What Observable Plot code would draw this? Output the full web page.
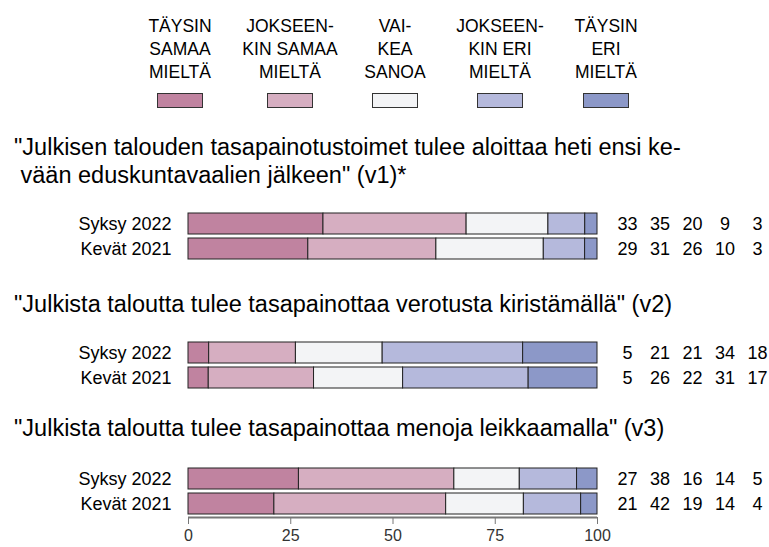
<!DOCTYPE html>
<html><head><meta charset="utf-8">
<script src="https://cdn.jsdelivr.net/npm/d3@7"></script>
<script src="https://cdn.jsdelivr.net/npm/@observablehq/plot@0.6"></script>
<style>
body{margin:0;background:#fff;font-family:"Liberation Sans",Arial,sans-serif;color:#000}
#root{position:relative;width:769px;height:547px;overflow:hidden}
.leg{position:absolute;top:15px;width:120px;text-align:center;font-size:17.5px;line-height:23px;transform:translateX(-50%);white-space:pre}
.sw{position:absolute;top:93px;width:44px;height:13px;border:1px solid #333;transform:translateX(-50%)}
.title{position:absolute;left:14px;font-size:23.5px;line-height:28px;white-space:pre}
.pl{position:absolute;left:0}
</style></head><body><div id="root"></div>
<script>
const categories = ["TÄYSIN\nSAMAA\nMIELTÄ", "JOKSEEN-\nKIN SAMAA\nMIELTÄ", "VAI-\nKEA\nSANOA", "JOKSEEN-\nKIN ERI\nMIELTÄ", "TÄYSIN\nERI\nMIELTÄ"];
const colors = ["#C083A0", "#D6AEC1", "#F3F4F6", "#B5B9DC", "#8C98C8"];
const periods = ["Syksy 2022", "Kevät 2021"];
const questions = [
  "\"Julkisen talouden tasapainotustoimet tulee aloittaa heti ensi ke-\n vään eduskuntavaalien jälkeen\" (v1)*",
  "\"Julkista taloutta tulee tasapainottaa verotusta kiristämällä\" (v2)",
  "\"Julkista taloutta tulee tasapainottaa menoja leikkaamalla\" (v3)"
];
const v1Syksy2022 = [33, 35, 20, 9, 3];
const v1Kevat2021 = [29, 31, 26, 10, 3];
const v2Syksy2022 = [5, 21, 21, 34, 18];
const v2Kevat2021 = [5, 26, 22, 31, 17];
const v3Syksy2022 = [27, 38, 16, 14, 5];
const v3Kevat2021 = [21, 42, 19, 14, 4];
const xTicks = [0, 25, 50, 75, 100];

const groups = [
  [v1Syksy2022, v1Kevat2021],
  [v2Syksy2022, v2Kevat2021],
  [v3Syksy2022, v3Kevat2021]
];

const root = document.getElementById("root");
const font = "'Liberation Sans', Arial, sans-serif";

// Legend
const legX = [180, 290, 395, 500, 606];
categories.forEach((c, i) => {
  const t = document.createElement("div");
  t.className = "leg"; t.style.left = legX[i] + "px"; t.textContent = c;
  root.appendChild(t);
  const s = document.createElement("div");
  s.className = "sw"; s.style.left = legX[i] + "px"; s.style.background = colors[i];
  root.appendChild(s);
});

// Titles
const titleTops = [133, 290, 414];
questions.forEach((q, i) => {
  const t = document.createElement("div");
  t.className = "title"; t.style.top = titleTops[i] + "px"; t.textContent = q;
  root.appendChild(t);
});

const plotTops = [209, 338, 464];
groups.forEach((g, gi) => {
  const rows = [];
  g.forEach((vals, pi) => vals.forEach((v, ci) => rows.push({period: periods[pi], cat: categories[ci], ci, value: v})));
  const p = Plot.plot({
    width: 769, height: 54,
    marginLeft: 188, marginRight: 172, marginTop: 0, marginBottom: 0,
    x: {domain: [0, 1], axis: null},
    y: {domain: periods, padding: 0.16, label: null, tickSize: 0, tickPadding: 17},
    color: {domain: categories, range: colors},
    style: {fontSize: "18px", fontFamily: font, color: "#000", background: "transparent", overflow: "visible"},
    marks: [
      Plot.barX(rows, Plot.stackX({offset: "normalize", x: "value", y: "period", fill: "cat", stroke: "#222", strokeWidth: 1})),
      ...categories.map((c, i) => Plot.text(rows.filter(d => d.ci === i), {
        frameAnchor: "right", y: "period", text: "value", dx: 30 + i * 32.5,
        textAnchor: "middle", fontSize: 18, fill: "#000"
      }))
    ]
  });
  p.classList.add("pl");
  p.style.top = plotTops[gi] + "px";
  root.appendChild(p);
});

// Axis
const ax = Plot.plot({
  width: 769, height: 31,
  marginLeft: 188, marginRight: 172, marginTop: 0, marginBottom: 29,
  x: {domain: [0, 100]},
  y: {domain: [0, 1], axis: null},
  style: {fontSize: "16px", fontFamily: font, color: "#333", background: "transparent", overflow: "visible"},
  marks: [
    Plot.ruleY([0], {stroke: "#777", strokeWidth: 2}),
    Plot.axisX({ticks: xTicks, tickSize: 7, tickPadding: 5, stroke: "#777", label: null, tickFormat: d => String(d)})
  ]
});
ax.classList.add("pl");
ax.style.top = "515px";
root.appendChild(ax);
</script>
</body></html>
